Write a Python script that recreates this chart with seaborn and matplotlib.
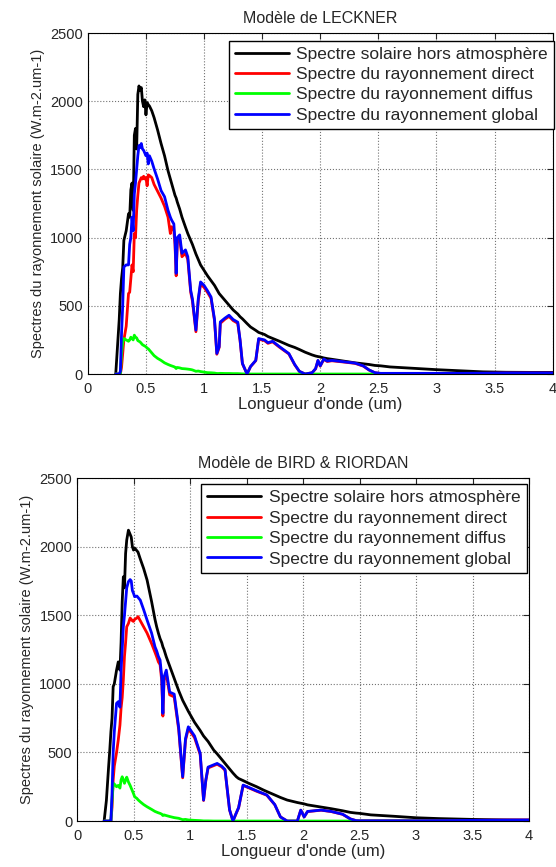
import numpy as np
import pandas as pd
import matplotlib
matplotlib.use('Agg')
import matplotlib.pyplot as plt
import seaborn as sns

series_names = ['Spectre solaire hors atmosphère',
                'Spectre du rayonnement direct',
                'Spectre du rayonnement diffus',
                'Spectre du rayonnement global']
series_colors = ['#000000', '#ff0000', '#00ff00', '#0000ff']

# --- Modele de LECKNER (wavelength in um, W.m-2.um-1)
leck_x = [0.24, 0.27, 0.28, 0.29, 0.30, 0.31, 0.33, 0.35, 0.36, 0.37,
          0.38, 0.39, 0.40, 0.41, 0.42, 0.43, 0.44, 0.45, 0.46, 0.47,
          0.48, 0.49, 0.50, 0.51, 0.52, 0.53, 0.55, 0.57, 0.60, 0.63,
          0.66, 0.69, 0.71, 0.72, 0.74, 0.75, 0.76, 0.77, 0.79, 0.81,
          0.84, 0.86, 0.885, 0.90, 0.93, 0.95, 0.97, 1.00, 1.03, 1.06,
          1.09, 1.11, 1.13, 1.14, 1.18, 1.215, 1.25, 1.29, 1.31, 1.33,
          1.37, 1.40, 1.445, 1.47, 1.52, 1.55, 1.59, 1.65, 1.73, 1.78,
          1.82, 1.87, 1.93, 1.96, 1.98, 2.00, 2.03, 2.06, 2.10, 2.20,
          2.30, 2.37, 2.42, 2.47, 2.52, 2.60, 2.80, 3.00, 3.20, 3.40,
          3.60, 3.80, 4.00]
leck_ext = [0, 400, 590, 700, 780, 980, 1050, 1175, 1150, 1350,
            1400, 1200, 1750, 1800, 1650, 2050, 2112, 2080, 2100, 2000,
            1960, 2010, 1900, 1990, 1975, 1965, 1930, 1880, 1790, 1690,
            1600, 1490, 1430, 1400, 1340, 1310, 1290, 1260, 1210, 1150,
            1077, 1030, 980, 950, 880, 840, 800, 760, 720, 685,
            650, 620, 590, 580, 540, 505, 470, 440, 420, 405,
            370, 345, 320, 305, 290, 275, 261, 240, 210, 195,
            180, 160, 140, 132, 128, 125, 118, 113, 108, 95,
            82, 75, 70, 63, 60, 52, 42, 32, 24, 16,
            13, 12, 12]
leck_dir = [0, 0, 0, 50, 150, 250, 350, 590, 600, 700,
            800, 750, 1030, 1000, 1200, 1310, 1400, 1420, 1440, 1430,
            1450, 1430, 1440, 1380, 1460, 1455, 1440, 1390, 1340, 1290,
            1230, 1150, 1030, 1080, 1050, 950, 720, 970, 990, 860,
            885, 840, 600, 535, 310, 535, 660, 635, 598, 555,
            392, 145, 195, 372, 402, 422, 392, 372, 245, 76,
            0, 54, 98, 255, 245, 225, 236, 196, 147, 68,
            19, 0, 9, 38, 97, 58, 107, 92, 97, 88,
            78, 58, 29, 9, 4, 4, 4, 4, 4, 5,
            7, 7, 7]
leck_dif = [0, 0, 0, 150, 230, 260, 250, 240, 250, 270,
            260, 250, 285, 270, 265, 245, 240, 235, 225, 215,
            210, 205, 200, 190, 185, 175, 155, 135, 115, 100,
            82, 70, 63, 60, 54, 50, 40, 48, 45, 40,
            38, 36, 33, 30, 20, 22, 18, 14, 10, 9,
            7, 4, 4, 5, 4, 4, 3, 3, 2, 1,
            0, 0, 0, 0, 0, 0, 0, 0, 0, 0,
            0, 0, 0, 0, 0, 0, 0, 0, 0, 0,
            0, 0, 0, 0, 0, 0, 0, 0, 0, 0,
            0, 0, 0]
leck_glo = [0, 0, 20, 300, 500, 785, 800, 800, 950, 1000,
            1150, 1050, 1320, 1400, 1500, 1600, 1675, 1660, 1690, 1650,
            1640, 1620, 1600, 1620, 1540, 1600, 1560, 1505, 1430, 1345,
            1300, 1200, 1150, 1130, 1100, 980, 738, 1000, 1020, 885,
            910, 860, 614, 550, 322, 550, 675, 650, 610, 565,
            400, 151, 200, 382, 410, 431, 400, 380, 250, 78,
            0, 55, 100, 260, 250, 230, 240, 200, 150, 70,
            20, 0, 10, 40, 100, 60, 110, 95, 100, 90,
            80, 60, 30, 10, 5, 5, 5, 5, 5, 6,
            8, 8, 8]

# --- Modele de BIRD & RIORDAN
bird_x = [0.24, 0.26, 0.28, 0.29, 0.30, 0.31, 0.32, 0.33, 0.35, 0.365,
          0.38, 0.39, 0.40, 0.41, 0.42, 0.43, 0.44, 0.455, 0.47, 0.48,
          0.49, 0.50, 0.51, 0.53, 0.54, 0.56, 0.59, 0.62, 0.66, 0.69,
          0.705, 0.72, 0.735, 0.75, 0.76, 0.77, 0.79, 0.82, 0.86, 0.90,
          0.935, 0.96, 0.985, 1.04, 1.09, 1.12, 1.14, 1.16, 1.21, 1.24,
          1.28, 1.31, 1.35, 1.38, 1.41, 1.43, 1.47, 1.52, 1.59, 1.65,
          1.68, 1.75, 1.80, 1.86, 1.95, 1.98, 2.01, 2.04, 2.10, 2.16,
          2.25, 2.35, 2.42, 2.47, 2.50, 2.60, 2.80, 3.00, 3.20, 3.50,
          3.80, 4.00]
bird_ext = [0, 150, 400, 517, 650, 750, 980, 1000, 1100, 1160,
            1100, 1300, 1600, 1780, 1700, 1950, 2048, 2120, 2090, 2070,
            2000, 1975, 1990, 1970, 1960, 1910, 1840, 1757, 1600, 1470,
            1416, 1370, 1330, 1300, 1270, 1250, 1197, 1130, 1040, 950,
            880, 840, 800, 720, 660, 620, 600, 580, 517, 490,
            450, 420, 380, 350, 323, 310, 295, 275, 250, 226,
            215, 190, 172, 153, 135, 130, 125, 118, 110, 102,
            90, 75, 63, 58, 56, 45, 35, 24, 18, 12,
            8, 6]
bird_dir = [0, 0, 0, 0, 0, 100, 300, 400, 500, 590,
            700, 825, 900, 1030, 1200, 1300, 1416, 1440, 1480, 1470,
            1460, 1455, 1470, 1480, 1490, 1460, 1415, 1370, 1294, 1230,
            1197, 1160, 1140, 1020, 765, 1025, 1075, 920, 905, 665,
            315, 588, 673, 608, 485, 150, 295, 387, 404, 414,
            395, 370, 81, 0, 59, 97, 259, 242, 217, 198,
            188, 119, 30, 0, 0, 79, 30, 69, 74, 79,
            69, 49, 15, 3, 2, 2, 2, 2, 3, 5,
            7, 8]
bird_dif = [0, 0, 0, 0, 0, 150, 275, 270, 250, 260,
            240, 300, 323, 300, 275, 300, 320, 285, 260, 240,
            220, 200, 177, 165, 155, 140, 120, 104, 85, 70,
            65, 60, 56, 50, 40, 45, 40, 33, 25, 20,
            10, 12, 8, 5, 3, 1, 1, 1, 0, 0,
            0, 0, 0, 0, 0, 0, 0, 0, 0, 0,
            0, 0, 0, 0, 0, 0, 0, 0, 0, 0,
            0, 0, 0, 0, 0, 0, 0, 0, 0, 0,
            0, 0]
bird_glo = [0, 0, 0, 0, 0, 200, 500, 650, 858, 870,
            830, 1100, 1250, 1416, 1500, 1600, 1700, 1745, 1760, 1750,
            1680, 1660, 1635, 1640, 1630, 1610, 1540, 1465, 1370, 1270,
            1240, 1200, 1173, 1050, 785, 1050, 1100, 940, 925, 680,
            323, 600, 687, 620, 493, 153, 300, 393, 410, 420,
            400, 375, 82, 0, 60, 98, 262, 245, 220, 200,
            190, 120, 30, 0, 0, 80, 30, 70, 75, 80,
            70, 50, 15, 3, 2, 2, 2, 2, 3, 5,
            7, 8]

x_ticks = [0, 0.5, 1, 1.5, 2, 2.5, 3, 3.5, 4]
x_tick_labels = ['0', '0.5', '1', '1.5', '2', '2.5', '3', '3.5', '4']
y_ticks = [0, 500, 1000, 1500, 2000, 2500]


def long_frame(x, ext, dire, dif, glo):
    parts = []
    for name, vals in zip(series_names, [ext, dire, dif, glo]):
        parts.append(pd.DataFrame({'x': x, 'y': vals, 'serie': name}))
    return pd.concat(parts, ignore_index=True)


def draw_panel(ax, df, title, legend_anchor):
    sns.lineplot(data=df, x='x', y='y', hue='serie', hue_order=series_names,
                 palette=series_colors, sort=False, estimator=None,
                 lw=2, ax=ax, legend=False)
    ax.set_xlim(0, 4)
    ax.set_ylim(0, 2500)
    ax.set_xticks(x_ticks)
    ax.set_xticklabels(x_tick_labels)
    ax.set_yticks(y_ticks)
    ax.grid(True, color='0.45', linestyle=':', linewidth=0.8)
    ax.tick_params(direction='in', top=True, right=True, length=4,
                   width=0.8, labelsize=10.5)
    ax.tick_params(axis='x', pad=5.5)
    for sp in ax.spines.values():
        sp.set_color('black')
        sp.set_linewidth(0.8)
    ax.set_title(title, fontsize=11.5, pad=7)
    ax.set_xlabel("Longueur d'onde (um)", fontsize=12, labelpad=1)
    ax.set_ylabel('Spectres du rayonnement solaire (W.m-2.um-1)',
                  fontsize=10.5, labelpad=4)
    leg = ax.legend(ax.lines[:4], series_names, loc='upper right',
                    bbox_to_anchor=legend_anchor, fontsize=12.5,
                    frameon=True, fancybox=False, framealpha=1,
                    edgecolor='black', handlelength=3.1,
                    labelspacing=0.3, borderpad=0.35, handletextpad=0.45,
                    borderaxespad=0)
    leg.get_frame().set_linewidth(1.0)


sns.set_style('white')
plt.rcParams['font.family'] = ['Liberation Sans', 'DejaVu Sans']

fig = plt.figure(figsize=(5.56, 8.67), dpi=100)
ax1 = fig.add_axes([0.158, 0.5686, 0.836, 0.3933])
ax2 = fig.add_axes([0.1385, 0.053, 0.813, 0.3956])

draw_panel(ax1, long_frame(leck_x, leck_ext, leck_dir, leck_dif, leck_glo),
           'Modèle de LECKNER', (1.003, 0.978))
draw_panel(ax2, long_frame(bird_x, bird_ext, bird_dir, bird_dif, bird_glo),
           'Modèle de BIRD & RIORDAN', (0.995, 0.982))

fig.savefig('out.png', dpi=100)
